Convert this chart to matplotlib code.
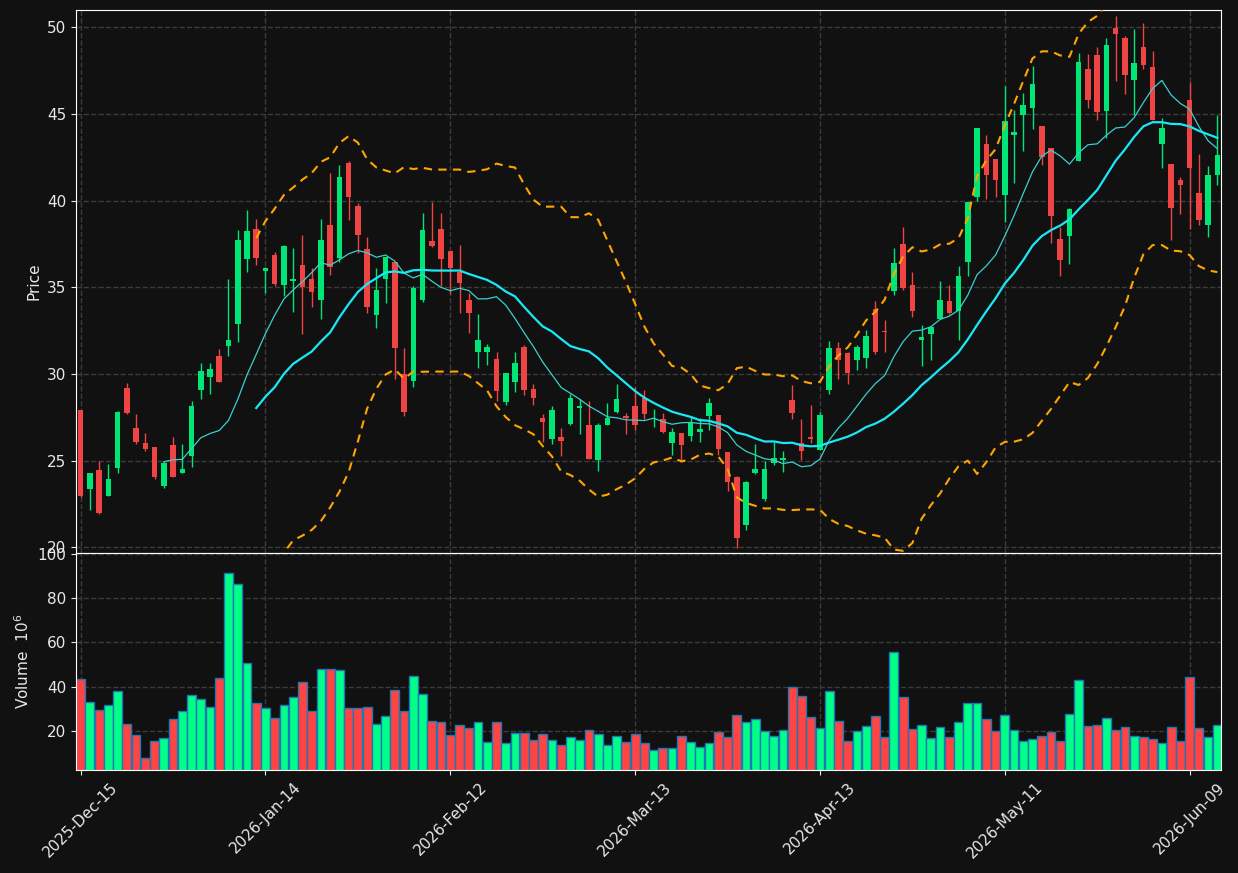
import matplotlib
matplotlib.use('Agg')
import matplotlib.pyplot as plt
import numpy as np
import pandas as pd

# OHLC (one value per trading day)
opens = [27.90, 23.37, 24.45, 22.97, 24.57, 29.19, 26.88, 26.00, 25.78, 23.57,
         25.90, 24.27, 25.28, 29.09, 29.83, 31.03, 31.63, 32.90, 36.65, 38.35,
         35.96, 36.85, 35.14, 35.36, 36.30, 35.46, 34.26, 38.61, 36.71, 42.16,
         39.67, 37.21, 33.40, 35.46, 36.44, 30.03, 29.59, 34.26, 37.67, 38.35,
         37.09, 35.86, 34.26, 31.25, 31.25, 30.89, 28.38, 29.55, 31.55, 29.13,
         27.48, 26.24, 26.38, 27.12, 28.04, 27.04, 25.04, 27.04, 27.82, 27.58,
         28.14, 28.64, 27.42, 27.42, 26.02, 26.58, 26.42, 26.64, 27.58, 27.62,
         25.48, 24.07, 21.27, 24.31, 22.77, 24.87, 25.04, 28.48, 26.04, 26.38,
         25.62, 29.09, 31.49, 31.19, 30.79, 30.93, 33.74, 32.50, 34.80, 37.49,
         35.16, 31.99, 32.29, 33.20, 34.20, 33.64, 36.46, 40.21, 43.30, 42.38,
         40.31, 43.78, 44.93, 45.33, 44.29, 43.06, 37.77, 37.95, 42.32, 47.57,
         48.40, 45.19, 49.94, 49.38, 46.97, 48.84, 47.73, 43.28, 42.10, 41.22,
         45.83, 40.42, 38.61, 41.48]
highs = [27.90, 24.30, 24.97, 24.83, 27.88, 29.47, 27.68, 26.58, 25.78, 24.97,
         26.38, 25.94, 28.46, 30.65, 30.61, 31.47, 35.50, 38.33, 39.49, 38.97,
         36.20, 37.07, 37.47, 37.25, 38.01, 36.10, 38.97, 41.62, 42.08, 42.28,
         39.89, 37.91, 36.14, 36.75, 36.44, 31.49, 35.10, 39.31, 39.95, 39.31,
         37.09, 37.45, 34.70, 33.44, 31.75, 31.29, 30.09, 31.29, 31.69, 29.45,
         27.72, 28.18, 26.88, 28.84, 28.54, 28.42, 27.18, 28.34, 29.45, 27.78,
         29.25, 29.09, 27.98, 27.78, 26.88, 26.62, 27.54, 27.48, 28.64, 27.62,
         25.48, 24.13, 23.81, 25.94, 24.97, 26.08, 25.58, 29.39, 27.42, 28.24,
         27.84, 31.93, 31.83, 31.29, 31.69, 32.55, 34.20, 33.10, 37.25, 38.51,
         35.86, 32.84, 32.80, 35.34, 35.16, 36.24, 39.91, 44.22, 43.82, 42.38,
         46.63, 45.23, 46.23, 47.79, 44.33, 43.06, 38.51, 39.57, 48.54, 48.48,
         48.84, 49.36, 50.68, 49.48, 49.90, 50.24, 48.64, 44.77, 42.10, 41.38,
         46.87, 42.72, 42.02, 44.93]
lows = [22.90, 22.17, 21.93, 22.95, 24.30, 27.68, 25.94, 25.58, 23.97, 23.43,
        24.07, 24.27, 24.65, 28.58, 28.87, 29.53, 31.07, 31.83, 35.90, 36.30,
        34.70, 35.06, 34.50, 33.60, 32.33, 33.86, 33.20, 35.74, 36.46, 38.87,
        37.01, 33.54, 32.63, 34.10, 29.73, 27.58, 29.23, 34.14, 37.35, 35.06,
        34.60, 33.54, 32.39, 30.33, 30.55, 28.42, 28.24, 28.99, 28.78, 28.24,
        26.08, 25.94, 25.28, 27.04, 26.54, 25.08, 24.43, 27.04, 27.78, 26.54,
        26.78, 27.38, 26.92, 26.58, 25.32, 24.92, 26.14, 26.08, 26.78, 25.32,
        23.25, 19.96, 21.02, 24.23, 22.67, 24.77, 24.37, 27.38, 25.04, 26.04,
        25.62, 28.84, 29.69, 29.45, 30.25, 30.33, 31.15, 31.29, 34.56, 34.84,
        33.30, 30.49, 30.83, 33.20, 33.46, 31.99, 35.66, 40.01, 40.11, 40.21,
        38.77, 41.02, 42.86, 44.16, 42.08, 37.57, 35.66, 36.34, 42.32, 45.33,
        44.67, 43.62, 46.93, 46.17, 44.93, 47.59, 44.67, 41.86, 37.71, 39.25,
        38.35, 38.61, 37.91, 40.88]
closes = [22.97, 24.27, 21.97, 23.93, 27.82, 27.78, 26.08, 25.68, 24.07, 24.87,
          24.07, 24.55, 28.14, 30.19, 30.27, 29.53, 31.95, 37.71, 38.23, 36.71,
          36.10, 35.20, 37.41, 35.46, 35.00, 34.74, 37.71, 36.20, 41.36, 40.19,
          38.01, 33.86, 34.84, 36.75, 31.49, 27.82, 34.94, 38.29, 37.41, 36.61,
          36.10, 35.26, 33.50, 31.95, 31.55, 29.03, 30.05, 30.65, 29.09, 28.62,
          27.22, 27.94, 26.12, 28.64, 28.14, 25.08, 27.04, 27.44, 28.54, 27.44,
          27.04, 27.68, 27.48, 26.64, 26.68, 25.92, 27.24, 26.82, 28.34, 25.68,
          23.77, 20.56, 23.77, 24.51, 24.53, 25.18, 25.18, 27.78, 25.58, 26.24,
          27.62, 31.49, 30.79, 30.05, 31.55, 32.19, 31.25, 32.44, 36.40, 34.96,
          33.64, 32.11, 32.69, 34.26, 33.50, 35.64, 39.91, 44.22, 41.48, 41.18,
          44.59, 43.94, 45.51, 46.71, 42.52, 39.11, 36.57, 39.51, 48.03, 45.79,
          45.13, 48.96, 49.64, 47.27, 47.93, 47.83, 44.67, 44.18, 39.57, 40.92,
          41.90, 38.89, 41.46, 42.66]
# volume in millions
volumes = [43.5, 33.1, 29.3, 31.7, 38.0, 23.2, 18.2, 7.8, 15.5, 16.8,
           25.4, 29.0, 36.2, 34.4, 30.8, 43.9, 91.3, 86.3, 50.7, 32.6,
           30.4, 25.9, 31.7, 35.3, 42.1, 29.0, 48.0, 48.0, 47.5, 30.4,
           30.4, 30.8, 23.2, 26.8, 38.5, 29.0, 44.8, 36.7, 24.5, 24.1,
           18.2, 22.7, 21.4, 24.1, 15.0, 24.1, 14.6, 19.1, 19.1, 15.9,
           18.6, 15.9, 13.7, 17.3, 15.9, 20.5, 18.6, 13.7, 17.7, 15.0,
           18.6, 14.6, 11.4, 12.3, 12.3, 17.7, 15.0, 12.8, 14.6, 19.5,
           17.3, 27.2, 24.1, 25.4, 20.0, 17.7, 20.5, 39.8, 35.8, 26.3,
           21.4, 38.0, 24.5, 15.5, 20.0, 22.3, 26.8, 17.3, 55.6, 35.3,
           20.9, 22.7, 16.8, 21.8, 17.3, 24.1, 32.6, 32.6, 25.4, 20.0,
           27.2, 20.5, 15.5, 16.4, 17.7, 19.5, 15.5, 27.7, 43.0, 22.3,
           22.7, 25.9, 20.5, 21.8, 17.7, 17.3, 16.4, 14.6, 21.8, 15.5,
           44.4, 21.4, 17.3, 22.7]

start_date = '2025-12-15'
holidays = ['2025-12-25', '2026-01-01', '2026-01-19', '2026-02-16',
            '2026-04-03', '2026-05-25']

BG = '#111111'
UP, DOWN = '#00e676', '#ef4444'
VOL_UP, VOL_DOWN = '#00ff88', '#ff4444'
TXT = '#e8e8e8'

df = pd.DataFrame({'Open': opens, 'High': highs, 'Low': lows,
                   'Close': closes, 'Volume': volumes})
df.index = pd.bdate_range(start_date, periods=len(df), freq='C',
                          holidays=holidays)
x = np.arange(len(df))
up = df['Close'] >= df['Open']

ma10 = df['Close'].rolling(10).mean()
ma20 = df['Close'].rolling(20).mean()
sd20 = df['Close'].rolling(20).std()

plt.rcParams['font.size'] = 11
fig = plt.figure(figsize=(12.38, 8.73), dpi=100, facecolor=BG)
ax = fig.add_axes([0.0614, 0.3666, 0.9249, 0.6219])
axv = fig.add_axes([0.0614, 0.1180, 0.9249, 0.2486], sharex=ax)

for a in (ax, axv):
    a.set_facecolor(BG)
    a.grid(True, linestyle='--', color='#3c3c3c', linewidth=1.0)
    a.set_axisbelow(True)
    for s in a.spines.values():
        s.set_color('white')
    a.tick_params(colors=TXT, labelcolor=TXT)

# candles
body_lo = np.minimum(df['Open'], df['Close'])
body_h = np.maximum((df['Close'] - df['Open']).abs(), 0.06)
colors = np.where(up, UP, DOWN)
ax.vlines(x, df['Low'], df['High'], colors=colors, linewidth=1.0, zorder=2)
ax.bar(x, body_h, bottom=body_lo, width=0.6, color=colors, linewidth=0,
       zorder=3)

ax.plot(x, ma10, color='#3ccfcf', linewidth=0.9, zorder=4)
ax.plot(x, ma20, color='#1ae8f5', linewidth=1.6, zorder=4)
ax.plot(x, ma20 + 2 * sd20, color='#ffa500', linewidth=1.5,
        linestyle=(0, (4, 3)), zorder=4)
ax.plot(x, ma20 - 2 * sd20, color='#ffa500', linewidth=1.5,
        linestyle=(0, (4, 3)), zorder=4)

ax.set_ylim(19.68, 51.0)
ax.set_ylabel('Price', color=TXT)
ax.tick_params(axis='x', labelbottom=False)

# volume
vcolors = np.where(up, VOL_UP, VOL_DOWN)
axv.bar(x, df['Volume'], width=0.95, color=vcolors, edgecolor='#1f77b4',
        linewidth=1.0)
axv.set_ylim(0.3 * min(volumes), 1.1 * max(volumes))
axv.set_yticks([20, 40, 60, 80, 100])
axv.set_ylabel('Volume  $10^{6}$', color=TXT)

ticks = x[::20]
axv.set_xticks(ticks)
axv.set_xticklabels([d.strftime('%Y-%b-%d') for d in df.index[ticks]],
                    rotation=45)
axv.set_xlim(-0.5, len(df) - 0.6)

fig.savefig('out.png', dpi=100, facecolor=BG)
